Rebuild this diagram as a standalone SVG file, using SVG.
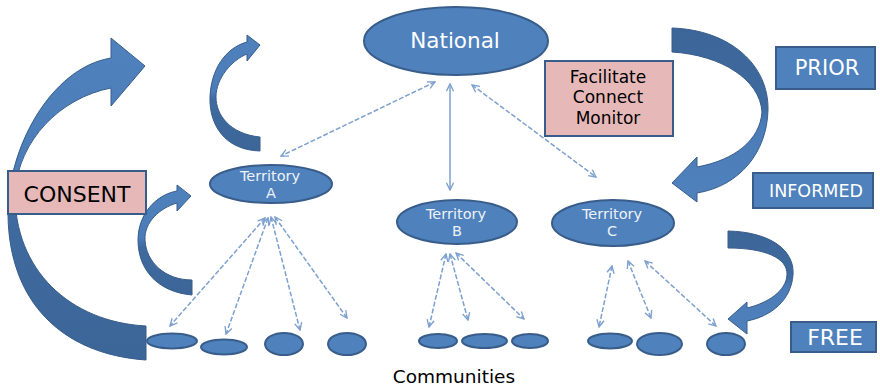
<svg xmlns="http://www.w3.org/2000/svg" width="880" height="389" viewBox="0 0 880 389">
<defs>
<style>
.node{fill:#4F81BD;stroke:#385D8A;stroke-width:2}
.box{fill:#4F81BD;stroke:#385D8A;stroke-width:2}
.pink{fill:#E6B9B8;stroke:#385D8A;stroke-width:2}
.wt{fill:#FFFFFF;font-family:"DejaVu Sans",Verdana,sans-serif;text-anchor:middle}
.tt{fill:#EEF3FA;font-family:"DejaVu Sans",Verdana,sans-serif;text-anchor:middle;font-size:14.5px}
.bt{fill:#000000;font-family:"DejaVu Sans",Verdana,sans-serif;text-anchor:middle}
.con{fill:none;stroke:#7DA0CE;stroke-width:1.5;stroke-dasharray:5 2;marker-start:url(#ah);marker-end:url(#ah)}
.solid{stroke-dasharray:none}
.arr{stroke:#385D8A;stroke-width:1}
</style>
<marker id="ah" viewBox="0 0 10 10" refX="9" refY="5" markerWidth="9" markerHeight="9" markerUnits="userSpaceOnUse" orient="auto-start-reverse">
<path d="M1,1 L9,5 L1,9" fill="none" stroke="#7DA0CE" stroke-width="1.5"/>
</marker>
<linearGradient id="lightTop" x1="0" y1="0" x2="0" y2="1">
<stop offset="0" stop-color="#4F81BD"/>
<stop offset="0.48" stop-color="#4B7CB8"/>
<stop offset="0.56" stop-color="#3F6A9F"/>
<stop offset="1" stop-color="#3C6698"/>
</linearGradient>
<linearGradient id="darkTop" x1="0" y1="0" x2="0" y2="1">
<stop offset="0" stop-color="#3C6698"/>
<stop offset="0.45" stop-color="#3F6A9F"/>
<stop offset="0.55" stop-color="#4B7CB8"/>
<stop offset="1" stop-color="#4F81BD"/>
</linearGradient>
</defs>

<g id="connectors">
<line class="con" x1="435" y1="82" x2="281" y2="156"/>
<line class="con solid" x1="450" y1="84" x2="450" y2="190"/>
<line class="con" x1="472" y1="85" x2="596" y2="177"/>
<line class="con" x1="265" y1="218" x2="170" y2="326"/>
<line class="con" x1="268" y1="218" x2="226" y2="334"/>
<line class="con" x1="271" y1="217" x2="300" y2="330"/>
<line class="con" x1="275" y1="217" x2="347" y2="318"/>
<line class="con" x1="446" y1="254" x2="429" y2="327"/>
<line class="con" x1="450" y1="254" x2="468" y2="320"/>
<line class="con" x1="456" y1="253" x2="524" y2="319"/>
<line class="con" x1="612" y1="266" x2="599" y2="327"/>
<line class="con" x1="628" y1="261" x2="651" y2="318"/>
<line class="con" x1="645" y1="261" x2="716" y2="326"/>
</g>

<g id="arrow-consent">
<path class="arr" fill="url(#lightTop)" d="M146,360 C 60,354 9,300 8,215 C 7,150 50,68 111,58 L111,38 L145,66 L111,106 L111,88 C 60,98 19,140 15,192 C 14,270 70,322 146,326 Z"/>
</g>
<g id="arrow-top-a">
<path class="arr" fill="url(#lightTop)" d="M260,151 C 225,150 209,125 210,97 C 211,70 225,48 247,42 L247,35 L260,45 L247,61 L247,54 C 232,60 216,78 216,97 C 216,115 230,134 260,137 Z"/>
</g>
<g id="arrow-bottom-a">
<path class="arr" fill="url(#lightTop)" d="M192,295 C 158,292 138,270 138,240 C 138,215 155,195 177,191 L177,185 L191,196 L177,211 L177,203 C 160,208 144,222 145,240 C 146,262 165,280 192,280 Z"/>
</g>
<g id="arrow-prior">
<path class="arr" fill="url(#darkTop)" d="M672,28 C 730,30 769,65 768,110 C 767,152 740,186 697,193 L697,202 L672,183 L697,157 L697,167 C 735,160 760,140 762,112 C 760,80 722,55 672,52 Z"/>
</g>
<g id="arrow-free">
<path class="arr" fill="url(#darkTop)" d="M728,231 C 770,232 795,250 793,275 C 791,300 772,316 747,321 L747,334 L728,319 L747,302 L747,308 C 768,303 786,291 787,275 C 788,258 765,248 728,248 Z"/>
</g>

<g id="national">
<ellipse class="node" cx="456" cy="41" rx="92" ry="34"/>
<text class="wt" x="455" y="48" font-size="21.5">National</text>
</g>
<g id="facilitate">
<rect class="pink" x="545" y="61" width="128" height="75"/>
<text class="bt" x="608" y="83" font-size="17">Facilitate</text>
<text class="bt" x="608" y="103" font-size="17">Connect</text>
<text class="bt" x="608" y="124" font-size="17">Monitor</text>
</g>
<g id="consent">
<rect class="pink" x="8" y="171" width="138" height="43"/>
<text class="bt" x="77" y="202" font-size="22">CONSENT</text>
</g>
<g id="prior">
<rect class="box" x="776" y="47" width="99" height="42"/>
<text class="wt" x="827" y="75" font-size="21">PRIOR</text>
</g>
<g id="informed">
<rect class="box" x="753" y="173" width="120" height="35"/>
<text class="wt" x="816" y="197" font-size="17.5">INFORMED</text>
</g>
<g id="free">
<rect class="box" x="791" y="322" width="85" height="30"/>
<text class="wt" x="835" y="345" font-size="22">FREE</text>
</g>

<g id="territory-a">
<ellipse class="node" cx="271" cy="184" rx="61" ry="19"/>
<text class="tt" x="270" y="181">Territory</text>
<text class="tt" x="271" y="198">A</text>
</g>
<g id="territory-b">
<ellipse class="node" cx="457" cy="222" rx="60" ry="22"/>
<text class="tt" x="456" y="219">Territory</text>
<text class="tt" x="457" y="236">B</text>
</g>
<g id="territory-c">
<ellipse class="node" cx="613" cy="223" rx="61" ry="23"/>
<text class="tt" x="612" y="219">Territory</text>
<text class="tt" x="612" y="236">C</text>
</g>

<g id="community-a1"><ellipse class="node" cx="172" cy="341" rx="25" ry="7.5"/></g>
<g id="community-a2"><ellipse class="node" cx="224" cy="347" rx="23" ry="7.5"/></g>
<g id="community-a3"><ellipse class="node" cx="284" cy="344" rx="19" ry="11"/></g>
<g id="community-a4"><ellipse class="node" cx="347" cy="344" rx="19" ry="11"/></g>
<g id="community-b1"><ellipse class="node" cx="438" cy="341" rx="19" ry="7"/></g>
<g id="community-b2"><ellipse class="node" cx="484.5" cy="341" rx="22.5" ry="7"/></g>
<g id="community-b3"><ellipse class="node" cx="530" cy="341" rx="18" ry="7"/></g>
<g id="community-c1"><ellipse class="node" cx="610" cy="341" rx="22" ry="7.5"/></g>
<g id="community-c2"><ellipse class="node" cx="659.5" cy="344" rx="22.5" ry="11"/></g>
<g id="community-c3"><ellipse class="node" cx="726" cy="344" rx="19" ry="11"/></g>

<g id="communities-label">
<text class="bt" x="454" y="383" font-size="18.5">Communities</text>
</g>
</svg>
